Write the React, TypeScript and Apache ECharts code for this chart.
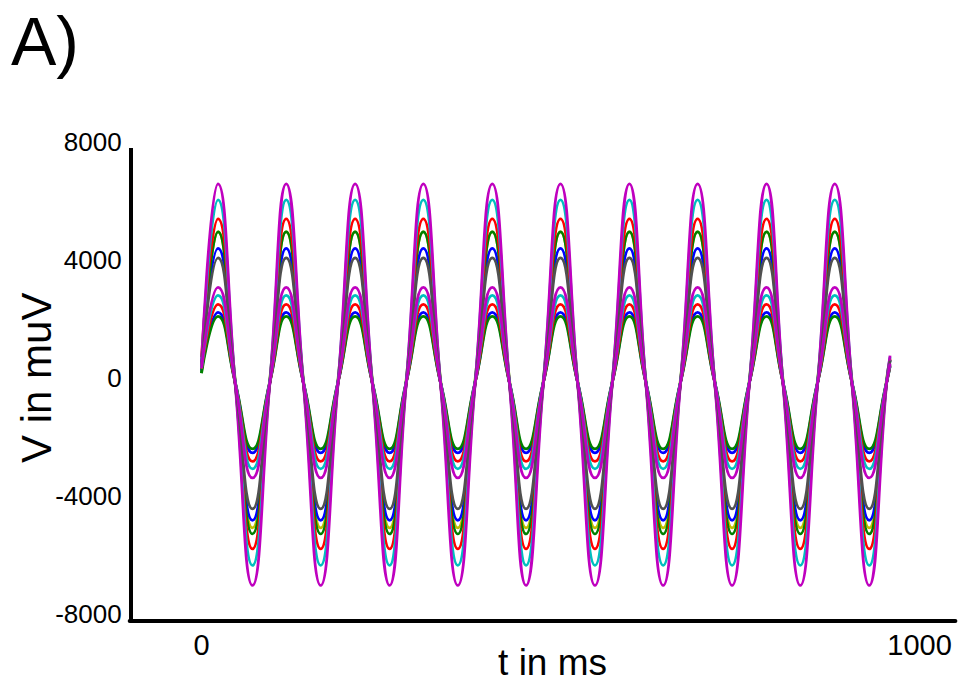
import React, { useEffect, useRef } from "react";
import * as echarts from "echarts";

// Key times (ms): start, then per cycle peak / falling mid / trough / rising mid, then end
const TIMES = [
  0,
  23, 47, 71, 95,
  118, 142, 166, 190,
  214, 238, 262, 285,
  309, 333, 357, 381,
  405, 429, 452, 476,
  500, 524, 548, 572,
  596, 619, 643, 667,
  691, 715, 739, 763,
  787, 810, 834, 858,
  882, 906, 930, 954,
  959,
];

// Series in drawing order (first = bottom)
const COLORS = [
  "#bfbf00", "#0000ff", "#008000", "#ff0000", "#00bfbf", "#bf00bf", "#505050",
  "#0000ff", "#008000", "#ff0000", "#00bfbf", "#bf00bf",
];
const PEAKS = [4940, 4380, 4940, 5380, 6020, 6563, 4060, 2211, 2076, 2482, 2787, 3060];
const TROUGHS = [-5086, -4832, -5290, -5798, -6356, -7034, -4443, -2547, -2411, -2834, -3088, -3393];
const STARTS = [370, 500, 160, 700, 400, 450, 300, 250, 150, 300, 320, 330];
const ENDS = [620, 600, 600, 650, 700, 750, 580, 400, 380, 420, 450, 480];

const Y_TICKS = [-8000, -4000, 0, 4000, 8000];
const X_TICKS = [0, 1000];

function buildSeries(i: number) {
  const mid = (PEAKS[i] + TROUGHS[i]) / 2;
  const data: number[][] = [];
  for (let k = 0; k < TIMES.length; k++) {
    let v: number;
    if (k === 0) v = STARTS[i];
    else if (k === TIMES.length - 1) v = ENDS[i];
    else {
      const ph = (k - 1) % 4;
      v = ph === 0 ? PEAKS[i] : ph === 2 ? TROUGHS[i] : mid;
    }
    data.push([TIMES[k], v]);
  }
  return data;
}

export default function App() {
  const ref = useRef<HTMLDivElement>(null);
  useEffect(() => {
    if (!ref.current) return;
    const chart = echarts.init(ref.current, undefined, { renderer: "svg" });
    const font = "'Liberation Sans', Arial, sans-serif";
    chart.setOption({
      animation: false,
      backgroundColor: "#ffffff",
      title: {
        text: "A)",
        left: 6,
        top: 2,
        textStyle: { fontSize: 68, fontWeight: "normal", color: "#000", fontFamily: font },
      },
      grid: { left: 129.7, right: 2.6, top: 141.5, bottom: 72, outerBoundsMode: "none", containLabel: false },
      graphic: [
        {
          type: "line",
          shape: { x1: 131, y1: 148, x2: 131, y2: 622 },
          style: { stroke: "#000", lineWidth: 4 },
          z: 10,
        },
      ],
      xAxis: {
        type: "value",
        min: -100,
        max: 1050,
        offset: 6.5,
        name: "t in ms",
        nameLocation: "middle",
        nameGap: 23,
        nameMoveOverlap: false,
        nameTextStyle: {
          fontSize: 37,
          color: "#000",
          fontFamily: font,
          verticalAlign: "top",
          padding: [0, 0, 0, 20],
        },
        axisLine: { show: true, onZero: false, lineStyle: { color: "#000", width: 4 } },
        axisTick: { show: false },
        splitLine: { show: false },
        axisLabel: {
          customValues: X_TICKS,
          formatter: (v: number) => String(v),
          fontSize: 29,
          color: "#000",
          fontFamily: font,
          margin: 10,
        },
      },
      yAxis: {
        type: "value",
        min: -8000,
        max: 8000,
        name: "V in muV",
        nameLocation: "middle",
        nameGap: 72,
        nameMoveOverlap: false,
        nameRotate: 90,
        nameTextStyle: { fontSize: 42, color: "#000", fontFamily: font },
        axisLine: { show: false, onZero: false },
        axisTick: { show: false },
        splitLine: { show: false },
        axisLabel: {
          customValues: Y_TICKS,
          formatter: (v: number) => String(v),
          fontSize: 26,
          color: "#000",
          fontFamily: font,
          margin: 8,
        },
      },
      series: COLORS.map((c, i) => ({
        type: "line",
        name: "trace " + (i + 1),
        data: buildSeries(i),
        smooth: 0.5,
        showSymbol: false,
        lineStyle: { color: c, width: 2.8 },
        itemStyle: { color: c },
      })),
    });
    return () => chart.dispose();
  }, []);
  return <div ref={ref} style={{ width: 958, height: 686, position: "absolute", left: 0, top: 0 }} />;
}
